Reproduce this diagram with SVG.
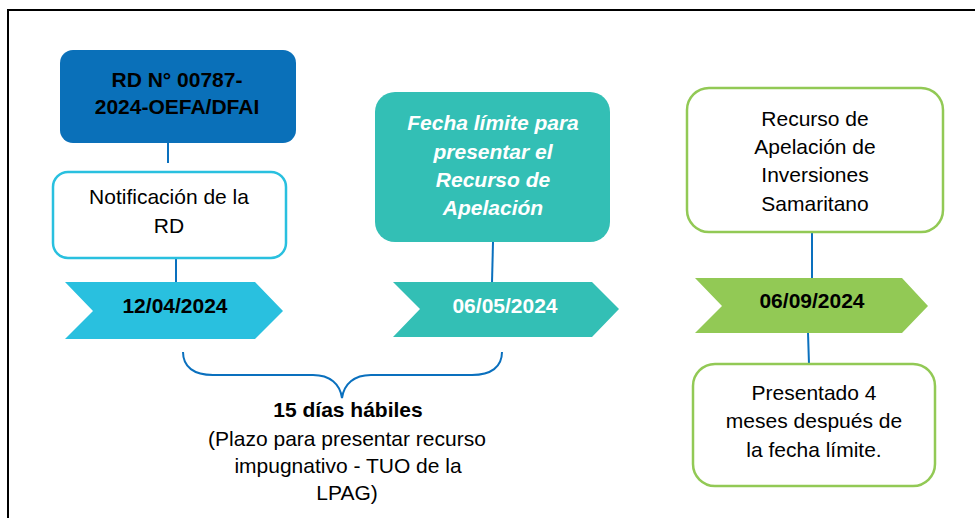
<svg xmlns="http://www.w3.org/2000/svg" width="975" height="518" viewBox="0 0 975 518">
<style>
text{font-family:"Liberation Sans",Arial,sans-serif;font-size:21px;text-anchor:middle;fill:#000}
.b{font-weight:bold}
.w{fill:#fff}
.bi{font-weight:bold;font-style:italic;fill:#fff}
.conn{stroke:#0a70be;stroke-width:2;fill:none}
</style>
<defs>
<clipPath id="clipB"><rect x="0" y="0" width="975" height="504"/></clipPath>
</defs>
<rect x="0" y="0" width="975" height="518" fill="#fff"/>
<rect x="8" y="10" width="1000" height="600" fill="none" stroke="#000" stroke-width="2"/>

<g id="connectors">
<line class="conn" x1="168" y1="142" x2="168" y2="163"/>
<line class="conn" x1="176" y1="258" x2="176" y2="283"/>
<line class="conn" x1="493" y1="242" x2="492" y2="283"/>
<line class="conn" x1="812" y1="222" x2="812" y2="279"/>
<line class="conn" x1="808" y1="333" x2="809" y2="364"/>
<path class="conn" d="M183,352 C183,367 194,375 213,375 L313,375 C330,375 340,384 342,398 C344,384 354,375 371,375 L472,375 C491,375 502,367 502,352"/>
</g>

<g id="rd">
<rect x="60" y="50" width="236" height="93" rx="13" fill="#0a70b9"/>
<text class="b" x="177" y="87">RD N° 00787-</text>
<text class="b" x="177" y="114">2024-OEFA/DFAI</text>
</g>

<g id="notificacion">
<rect x="53" y="172" width="233" height="86" rx="15" fill="#fff" stroke="#29c0df" stroke-width="2.5"/>
<text x="169" y="204">Notificación de la</text>
<text x="169" y="233">RD</text>
</g>

<g id="fecha1">
<polygon points="65,282 255,282 283,311 255,339 65,339 93,311" fill="#29c0df"/>
<text class="b" x="175" y="313">12/04/2024</text>
</g>

<g id="fecha-limite">
<rect x="375" y="92" width="235" height="150" rx="20" fill="#33bfb5"/>
<text class="bi" x="493" y="130">Fecha límite para</text>
<text class="bi" x="493" y="159">presentar el</text>
<text class="bi" x="493" y="187">Recurso de</text>
<text class="bi" x="493" y="215">Apelación</text>
</g>

<g id="fecha2">
<polygon points="393,282 592,282 619,309 592,337 393,337 420,309" fill="#33bfb5"/>
<text class="b w" x="505" y="313">06/05/2024</text>
</g>

<g id="recurso">
<rect x="687" y="88" width="256" height="144" rx="22" fill="#fff" stroke="#92c955" stroke-width="2.5"/>
<text x="815" y="126">Recurso de</text>
<text x="815" y="154">Apelación de</text>
<text x="815" y="182">Inversiones</text>
<text x="815" y="211">Samaritano</text>
</g>

<g id="fecha3">
<polygon points="695,278 902,278 928,306 902,333 695,333 722,306" fill="#92c955"/>
<text class="b" x="812" y="308">06/09/2024</text>
</g>

<g id="presentado">
<rect x="693" y="364" width="242" height="122" rx="22" fill="#fff" stroke="#92c955" stroke-width="2.5"/>
<text x="814" y="400">Presentado 4</text>
<text x="814" y="428">meses después de</text>
<text x="814" y="457">la fecha límite.</text>
</g>

<g id="plazo" clip-path="url(#clipB)">
<text class="b" x="348" y="417">15 días hábiles</text>
<text x="347" y="446">(Plazo para presentar recurso</text>
<text x="348" y="473">impugnativo - TUO de la</text>
<text x="347" y="500">LPAG)</text>
</g>
</svg>
